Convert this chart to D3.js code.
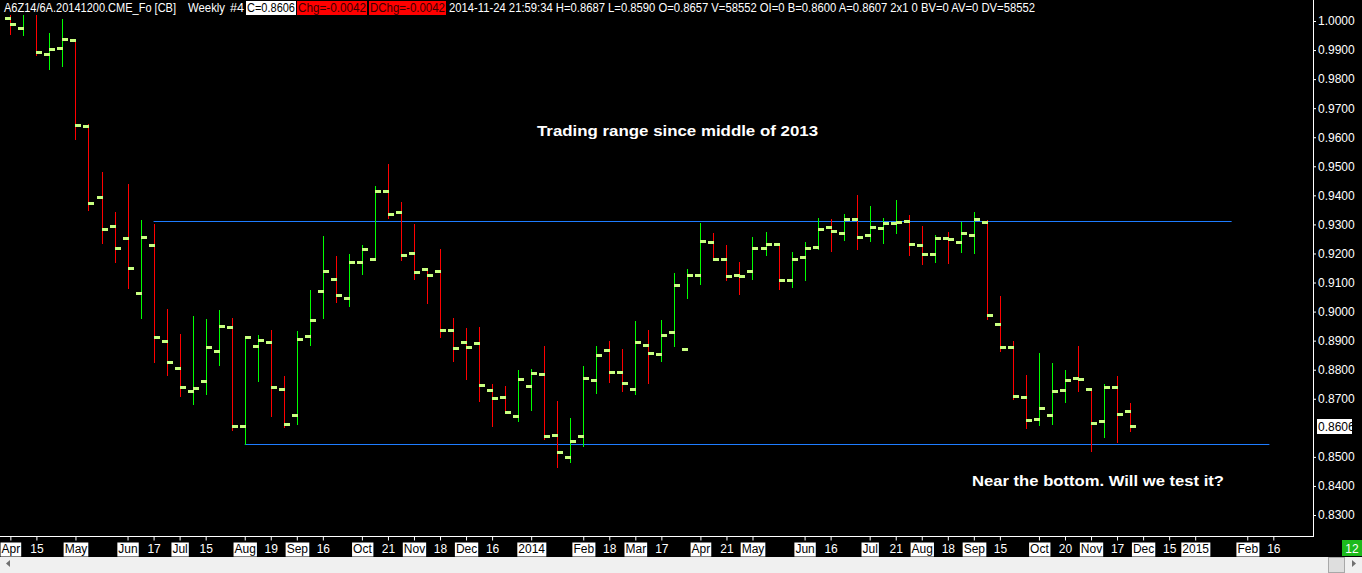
<!DOCTYPE html>
<html>
<head>
<meta charset="utf-8">
<script src="https://cdn.jsdelivr.net/npm/d3@7"></script>
<style>
body { margin: 0; background: #000; overflow: hidden; }
svg { display: block; font-family: "Liberation Sans", Arial, sans-serif; }
</style>
</head>
<body>
<svg id="chart" width="1362" height="573"></svg>
<script>
// weekly bars, A6Z14 (AUD Dec 2014), first bar = week of 2013-04-01
var opens = [
	1.0009, 0.9975, 1.0050, 0.9885, 0.9906, 0.9934, 0.9638, 0.9393, 0.9294, 0.9252,
	0.9063, 0.9228, 0.8898, 0.8805, 0.8726, 0.8760, 0.8863, 0.8946, 0.8605, 0.8881,
	0.8894, 0.8733, 0.8643, 0.8915, 0.9070, 0.9111, 0.9046, 0.9170, 0.9180, 0.9414,
	0.9342, 0.9201, 0.9146, 0.9139, 0.8936, 0.8894, 0.8891, 0.8729, 0.8705, 0.8640,
	0.8743, 0.8784, 0.8574, 0.8499, 0.8571, 0.8764, 0.8867, 0.8791, 0.8733, 0.8884,
	0.8853, 0.8929, 0.8870, 0.9125, 0.9238, 0.9180, 0.9125, 0.9139, 0.9218, 0.9232,
	0.9108, 0.9187, 0.9221, 0.9290, 0.9269, 0.9318, 0.9263, 0.9287, 0.9305, 0.9312,
	0.9228, 0.9197, 0.9253, 0.9238, 0.9263, 0.9307, 0.8956, 0.8877, 0.8705, 0.8629,
	0.8643, 0.8729, 0.8770, 0.8733, 0.8622, 0.8740, 0.8657
];
var highs = [
	1.0040, 1.0060, 1.0070, 0.9959, 1.0007, 0.9935, 0.9645, 0.9480, 0.9343, 0.9439,
	0.9315, 0.9301, 0.9009, 0.8923, 0.8985, 0.8975, 0.9006, 0.8978, 0.8914, 0.8920,
	0.8937, 0.8778, 0.8933, 0.9074, 0.9260, 0.9191, 0.9198, 0.9229, 0.9431, 0.9508,
	0.9377, 0.9301, 0.9149, 0.9214, 0.8978, 0.8944, 0.8947, 0.8751, 0.8744, 0.8799,
	0.8802, 0.8882, 0.8692, 0.8634, 0.8813, 0.8882, 0.8899, 0.8871, 0.8968, 0.8937,
	0.8971, 0.9133, 0.9147, 0.9305, 0.9270, 0.9229, 0.9171, 0.9257, 0.9274, 0.9233,
	0.9205, 0.9240, 0.9322, 0.9319, 0.9336, 0.9401, 0.9363, 0.9322, 0.9384, 0.9332,
	0.9295, 0.9264, 0.9274, 0.9308, 0.9343, 0.9314, 0.9054, 0.8899, 0.8782, 0.8858,
	0.8823, 0.8799, 0.8882, 0.8734, 0.8751, 0.8778, 0.8687
];
var lows = [
	0.9955, 0.9952, 0.9883, 0.9835, 0.9846, 0.9594, 0.9350, 0.9237, 0.9172, 0.9082,
	0.8979, 0.8828, 0.8783, 0.8711, 0.8681, 0.8716, 0.8816, 0.8593, 0.8544, 0.8761,
	0.8641, 0.8604, 0.8613, 0.8885, 0.8978, 0.9033, 0.9019, 0.9129, 0.9178, 0.9323,
	0.9178, 0.9112, 0.9030, 0.8913, 0.8830, 0.8768, 0.8692, 0.8606, 0.8653, 0.8624,
	0.8661, 0.8563, 0.8465, 0.8482, 0.8539, 0.8720, 0.8758, 0.8728, 0.8716, 0.8754,
	0.8830, 0.8882, 0.9047, 0.9095, 0.9178, 0.9109, 0.9061, 0.9112, 0.9195, 0.9078,
	0.9085, 0.9109, 0.9215, 0.9209, 0.9246, 0.9215, 0.9243, 0.9236, 0.9270, 0.9195,
	0.9164, 0.9171, 0.9167, 0.9205, 0.9202, 0.8975, 0.8864, 0.8699, 0.8599, 0.8610,
	0.8613, 0.8689, 0.8727, 0.8520, 0.8569, 0.8551, 0.8590
];
var closes = [
	0.9989, 1.0040, 0.9892, 0.9903, 0.9937, 0.9641, 0.9373, 0.9283, 0.9218, 0.9149,
	0.9256, 0.8912, 0.8826, 0.8740, 0.8736, 0.8877, 0.8949, 0.8605, 0.8912, 0.8901,
	0.8740, 0.8612, 0.8905, 0.8970, 0.9139, 0.9056, 0.9170, 0.9214, 0.9414, 0.9335,
	0.9194, 0.9135, 0.9125, 0.8936, 0.8874, 0.8877, 0.8746, 0.8702, 0.8654, 0.8767,
	0.8788, 0.8571, 0.8516, 0.8554, 0.8770, 0.8850, 0.8791, 0.8753, 0.8894, 0.8857,
	0.8918, 0.9091, 0.9125, 0.9242, 0.9180, 0.9121, 0.9124, 0.9218, 0.9232, 0.9108,
	0.9180, 0.9218, 0.9283, 0.9276, 0.9318, 0.9256, 0.9290, 0.9306, 0.9307, 0.9232,
	0.9197, 0.9252, 0.9250, 0.9269, 0.9318, 0.8987, 0.8877, 0.8709, 0.8626, 0.8667,
	0.8726, 0.8764, 0.8767, 0.8616, 0.8740, 0.8647, 0.8606
];

// x axis ticks, in weeks from the first bar
var tickWeeks = [0, 2, 5, 9, 11, 13, 15, 18, 20, 22, 24, 27, 29, 31, 33, 35, 37, 40, 44, 46, 48, 50,
	53, 55, 57, 61, 63, 66, 68, 70, 72, 74, 76, 79, 81, 83, 85, 87, 89, 91, 95, 97];
var tickLabels = ['Apr', '15', 'May', 'Jun', '17', 'Jul', '15', 'Aug', '19', 'Sep', '16', 'Oct', '21', 'Nov', '18', 'Dec', '16', '2014', 'Feb', '18', 'Mar', '17',
	'Apr', '21', 'May', 'Jun', '16', 'Jul', '21', 'Aug', '18', 'Sep', '15', 'Oct', '20', 'Nov', '17', 'Dec', '15', '2015', 'Feb', '16'];
var yTicks = [0.83, 0.84, 0.85, 0.87, 0.88, 0.89, 0.90, 0.91, 0.92, 0.93, 0.94, 0.95, 0.96, 0.97, 0.98, 0.99, 1.00];

// hand drawn range lines
var levels = [0.9312, 0.8544];
var levelFrom = [11, 18];
var levelTo = [93.8, 96.7];

var lastPrice = 0.8606;
var headerPlain = ['A6Z14/6A.20141200.CME_Fo [CB]', 'Weekly', '#4'];
var headerBoxes = ['C=0.8606', 'Chg=-0.0042', 'DChg=-0.0042'];
var headerTail = '2014-11-24 21:59:34 H=0.8687 L=0.8590 O=0.8657 V=58552 OI=0 B=0.8600 A=0.8607 2x1 0 BV=0 AV=0 DV=58552';
var notes = ['Trading range since middle of 2013', 'Near the bottom. Will we test it?'];

var svg = d3.select('#chart');
var axisX = 1313, plotTop = 15, plotBottom = 536;

var x = d3.scaleLinear().domain([0, 100]).range([10.36, 10.36 + 1302]);
var y = d3.scaleLinear().domain([0.83, 1.0]).range([515, 21]);

svg.append('defs').append('clipPath').attr('id', 'plotclip')
	.append('rect').attr('x', 0).attr('y', plotTop).attr('width', axisX).attr('height', plotBottom - plotTop);

var g = svg.append('g').attr('clip-path', 'url(#plotclip)');

g.selectAll('line.level').data(levels).enter().append('line')
	.attr('class', 'level')
	.attr('x1', function(d, i) { return x(levelFrom[i]); })
	.attr('x2', function(d, i) { return x(levelTo[i]); })
	.attr('y1', function(d) { return Math.round(y(d)) + 0.5; })
	.attr('y2', function(d) { return Math.round(y(d)) + 0.5; })
	.attr('stroke', '#1e7cff')
	.attr('stroke-width', 1);

var bars = g.selectAll('g.bar').data(opens).enter().append('g').attr('class', 'bar');

bars.append('line')
	.attr('x1', function(d, i) { return Math.round(x(i)) + 0.5; })
	.attr('x2', function(d, i) { return Math.round(x(i)) + 0.5; })
	.attr('y1', function(d, i) { return Math.round(y(highs[i])); })
	.attr('y2', function(d, i) { return Math.round(y(lows[i])) + 1; })
	.attr('stroke', function(d, i) { return closes[i] >= opens[i] ? '#00ff00' : '#ff0000'; })
	.attr('stroke-width', 1);

// open tick left, close tick right
bars.append('rect')
	.attr('x', function(d, i) { return Math.round(x(i)) - 5; })
	.attr('y', function(d) { return Math.round(y(d)) - 1; })
	.attr('width', 6).attr('height', 3)
	.attr('fill', '#c8ff80');

bars.append('rect')
	.attr('x', function(d, i) { return Math.round(x(i)); })
	.attr('y', function(d, i) { return Math.round(y(closes[i])) - 1; })
	.attr('width', 6).attr('height', 3)
	.attr('fill', '#c8ff80');

// notes
svg.append('text').text(notes[0])
	.attr('x', 537).attr('y', 135.5)
	.attr('fill', '#fff').attr('font-size', 15).attr('font-weight', 'bold')
	.attr('textLength', 281).attr('lengthAdjust', 'spacingAndGlyphs');
svg.append('text').text(notes[1])
	.attr('x', 972).attr('y', 485.5)
	.attr('fill', '#fff').attr('font-size', 15).attr('font-weight', 'bold')
	.attr('textLength', 252).attr('lengthAdjust', 'spacingAndGlyphs');

// price axis
var yAxis = d3.axisRight(y).tickValues(yTicks).tickFormat(d3.format('.4f')).tickSize(3).tickPadding(2);
var ya = svg.append('g').attr('transform', 'translate(' + axisX + ',0)').call(yAxis);
ya.select('.domain').remove();
ya.selectAll('line').attr('stroke', '#fff');
ya.selectAll('text').attr('fill', '#fff').attr('font-size', 12).attr('font-family', '"Liberation Sans", Arial, sans-serif');

svg.append('rect')
	.attr('x', axisX + 4).attr('y', Math.round(y(lastPrice)) - 7)
	.attr('width', 35).attr('height', 15).attr('fill', '#fff');
svg.append('text').text(d3.format('.4f')(lastPrice))
	.attr('x', axisX + 5).attr('y', Math.round(y(lastPrice)) + 0.5).attr('dy', '0.36em')
	.attr('fill', '#000').attr('font-size', 12);

// frame
svg.append('line').attr('x1', axisX + 0.5).attr('x2', axisX + 0.5).attr('y1', 0).attr('y2', plotBottom + 1)
	.attr('stroke', '#fff');
svg.append('line').attr('x1', 0).attr('x2', axisX + 1).attr('y1', plotBottom + 0.5).attr('y2', plotBottom + 0.5)
	.attr('stroke', '#fff');

// time axis
var xAxis = d3.axisBottom(x).tickValues(tickWeeks)
	.tickFormat(function(d, i) { return tickLabels[i]; })
	.tickSize(4).tickPadding(4);
var xa = svg.append('g').attr('transform', 'translate(0,' + (plotBottom + 0.5) + ')').call(xAxis);
xa.select('.domain').remove();
xa.selectAll('line').attr('stroke', '#fff');
xa.selectAll('text').attr('fill', '#fff').attr('font-size', 12).attr('font-family', '"Liberation Sans", Arial, sans-serif');
xa.selectAll('.tick').each(function(d, i) {
	if (tickLabels[i].length < 3) return;
	var t = d3.select(this).select('text').attr('fill', '#000');
	var b = t.node().getBBox();
	d3.select(this).insert('rect', 'text')
		.attr('x', b.x - 1).attr('y', 6).attr('width', b.width + 2).attr('height', 14)
		.attr('fill', '#fff');
});

// bar count box
svg.append('rect').attr('x', 1342).attr('y', 540).attr('width', 20).attr('height', 16).attr('fill', '#1cba1c');
svg.append('text').text('12').attr('x', 1352).attr('y', 552.5).attr('text-anchor', 'middle')
	.attr('fill', '#fff').attr('font-size', 12);

// scroll bar
svg.append('rect').attr('x', 0).attr('y', 557).attr('width', 1362).attr('height', 16).attr('fill', '#f0f0f0');
svg.append('path').attr('d', 'M6,563.5 L10,560 L10,567 Z').attr('fill', '#707070');
svg.append('rect').attr('x', 1328.5).attr('y', 557.5).attr('width', 16).attr('height', 15)
	.attr('fill', '#dedede').attr('stroke', '#a8a8a8');
svg.append('path').attr('d', 'M1356,563.5 L1352,560 L1352,567 Z').attr('fill', '#707070');

// header line
var hx = [4, 188, 230];
var hw = [172, 37, 14];
headerPlain.forEach(function(s, i) {
	svg.append('text').text(s).attr('x', hx[i]).attr('y', 12)
		.attr('fill', '#fff').attr('font-size', 12)
		.attr('textLength', hw[i]).attr('lengthAdjust', 'spacingAndGlyphs');
});
var bx = [246, 297, 369];
var bw = [50, 70, 77];
var bfill = ['#fff', '#ff0000', '#ff0000'];
headerBoxes.forEach(function(s, i) {
	svg.append('rect').attr('x', bx[i]).attr('y', 1).attr('width', bw[i]).attr('height', 14).attr('fill', bfill[i]);
	svg.append('text').text(s).attr('x', bx[i] + 1).attr('y', 12)
		.attr('fill', i === 0 ? '#000' : '#3a0000').attr('font-size', 12)
		.attr('textLength', bw[i] - 2).attr('lengthAdjust', 'spacingAndGlyphs');
});
svg.append('text').text(headerTail).attr('x', 449).attr('y', 12)
	.attr('fill', '#fff').attr('font-size', 12)
	.attr('textLength', 586).attr('lengthAdjust', 'spacingAndGlyphs');
</script>
</body>
</html>
